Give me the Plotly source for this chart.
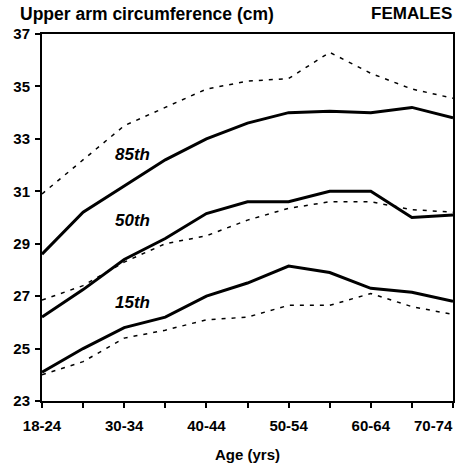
import plotly.graph_objects as go

age_groups = ["18-24", "25-29", "30-34", "35-39", "40-44", "45-49",
              "50-54", "55-59", "60-64", "65-69", "70-74"]
tick_labels = ["18-24", "", "30-34", "", "40-44", "", "50-54", "", "60-64", "", ""]
last_label = "70-74"
y_ticks = [23, 25, 27, 29, 31, 33, 35, 37]

p85_solid = [28.6, 30.2, 31.2, 32.2, 33.0, 33.6, 34.0, 34.05, 34.0, 34.2, 33.8]
p85_dash = [30.9, 32.2, 33.5, 34.2, 34.9, 35.2, 35.3, 36.3, 35.5, 34.9, 34.55]
p50_solid = [26.2, 27.25, 28.4, 29.2, 30.15, 30.6, 30.6, 31.0, 31.0, 30.0, 30.1]
p50_dash = [26.85, 27.4, 28.3, 29.0, 29.3, 29.9, 30.35, 30.6, 30.6, 30.3, 30.2]
p15_solid = [24.1, 25.0, 25.8, 26.2, 27.0, 27.5, 28.15, 27.9, 27.3, 27.15, 26.8]
p15_dash = [24.0, 24.5, 25.4, 25.7, 26.1, 26.2, 26.65, 26.65, 27.1, 26.6, 26.3]

labels = ["85th", "50th", "15th"]
label_y = [32.4, 29.9, 26.75]

FONT = "Liberation Sans, Arial"
x = list(range(len(age_groups)))
fig = go.Figure()
for s in [p85_dash, p50_dash, p15_dash]:
    fig.add_trace(go.Scatter(x=x, y=s, mode="lines",
                             line=dict(color="black", width=1.5, dash="4px,6px"),
                             hoverinfo="skip"))
for s in [p85_solid, p50_solid, p15_solid]:
    fig.add_trace(go.Scatter(x=x, y=s, mode="lines",
                             line=dict(color="black", width=3),
                             hoverinfo="skip"))

for t, yv in zip(labels, label_y):
    fig.add_annotation(x=2.2, y=yv, text="<b><i>%s</i></b>" % t, showarrow=False,
                       font=dict(family=FONT, size=17, color="black"))

fig.add_annotation(xref="paper", yref="paper", x=-0.058, y=1.0545, xanchor="left", yanchor="middle",
                   text="<b>Upper arm circumference (cm)</b>", showarrow=False,
                   font=dict(family=FONT, size=17.5, color="black"))
fig.add_annotation(xref="paper", yref="paper", x=1.0, y=1.0545, xanchor="right", yanchor="middle",
                   xshift=1, text="<b>FEMALES</b>", showarrow=False,
                   font=dict(family=FONT, size=17, color="black"))
fig.add_annotation(xref="paper", yref="paper", x=0.5, y=-0.117, xanchor="center", yanchor="top",
                   text="<b>Age (yrs)</b>", showarrow=False,
                   font=dict(family=FONT, size=15, color="black"))
fig.add_annotation(xref="paper", yref="paper", x=1.0, y=-0.068, xanchor="right", yanchor="middle",
                   xshift=2, text="<b>%s</b>" % last_label, showarrow=False,
                   font=dict(family=FONT, size=15, color="black"))

fig.update_layout(
    width=462, height=466,
    margin=dict(l=42, r=7, t=34, b=65),
    paper_bgcolor="white", plot_bgcolor="white",
    showlegend=False,
    font=dict(family=FONT, size=15, color="black"),
    xaxis=dict(range=[0, 10], tickmode="array", tickvals=x,
               ticktext=["<b>%s</b>" % t if t else "" for t in tick_labels],
               ticks="outside", ticklen=5, tickwidth=1.5, tickcolor="black",
               ticklabelstandoff=5,
               showline=True, linecolor="black", linewidth=2, mirror=True,
               showgrid=False, zeroline=False,
               tickfont=dict(size=15, family=FONT)),
    yaxis=dict(range=[23, 37], tickmode="array", tickvals=y_ticks,
               ticktext=["<b>%d</b>" % v for v in y_ticks],
               ticks="outside", ticklen=5, tickwidth=1.5, tickcolor="black",
               ticklabelstandoff=2,
               showline=True, linecolor="black", linewidth=2, mirror=True,
               showgrid=False, zeroline=False,
               tickfont=dict(size=15, family=FONT)),
)

fig.write_html("out.html", config={"displayModeBar": False},
               post_script="document.body.style.margin='0px';")
